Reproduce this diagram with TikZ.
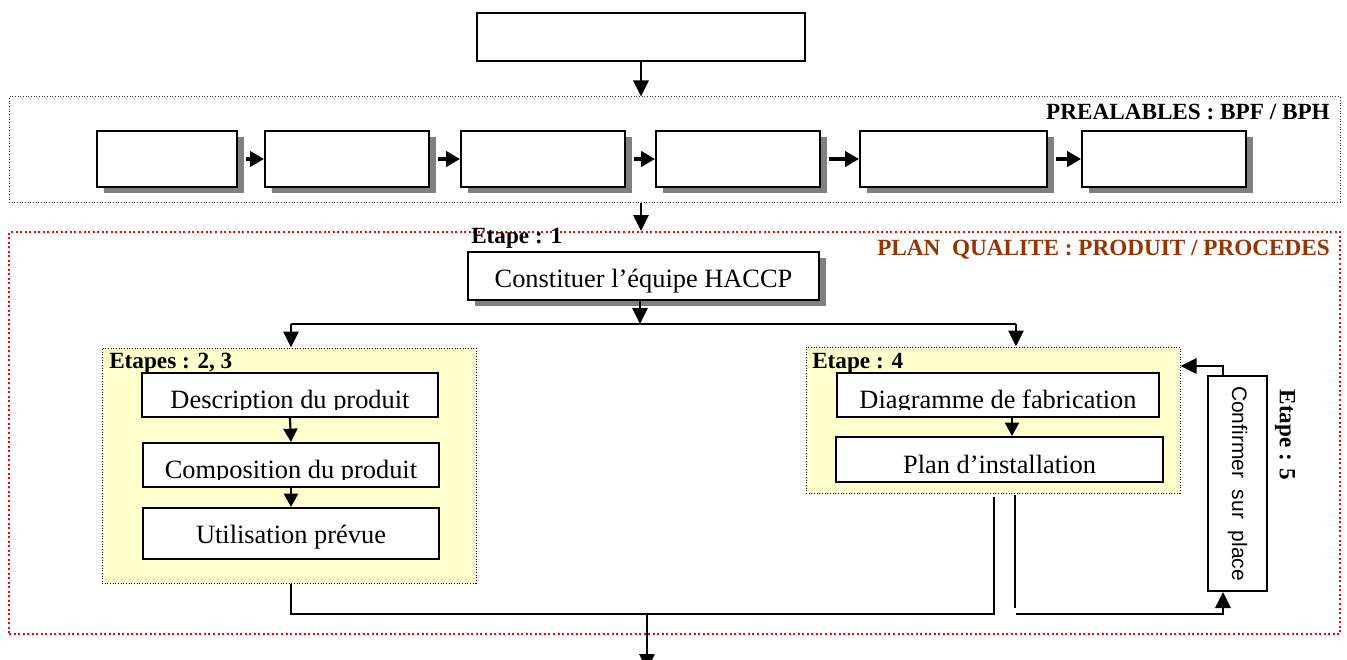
\documentclass[tikz,border=0pt]{standalone}
\usepackage{fontspec}
\setmainfont{Liberation Serif}
\newfontfamily\arialfont{Liberation Sans}
\usetikzlibrary{arrows.meta,fit,shadows,calc}

\definecolor{shadowgray}{HTML}{808080}
\definecolor{planbrown}{HTML}{993300}
\definecolor{paleyellow}{HTML}{FFFFCE}
\definecolor{dotred}{HTML}{FF0000}

\tikzset{
  boxframe/.style={draw=black, line width=1.5pt, fill=white, inner sep=0pt},
  shadowbox/.style={boxframe, drop shadow={shadow xshift=5.25pt, shadow yshift=-4.5pt, fill=shadowgray, opacity=1}},
  preframe/.style={draw=black!80, line width=0.75pt, dash pattern=on 0.75pt off 1.25pt, inner sep=0pt},
  redframe/.style={draw=dotred, line width=1.5pt, dash pattern=on 1.5pt off 1.9pt, inner sep=0pt},
  stepframe/.style={draw=black, line width=0.75pt, dash pattern=on 0.75pt off 1.25pt, fill=paleyellow, inner sep=0pt},
  body/.style={font=\fontsize{19.8}{22}\selectfont, inner sep=0pt},
  tag/.style={font=\bfseries\fontsize{17.4}{20}\selectfont, inner sep=0pt},
  sanstext/.style={font=\arialfont\fontsize{15.75}{18}\selectfont, inner sep=0pt},
  conn/.style={line width=1.6pt},
  arr/.style={conn, -{Triangle[length=12pt,width=11.5pt]}},
  smallarr/.style={conn, -{Triangle[length=10pt,width=10.5pt]}},
  chainarr/.style={line width=2.5pt, -{Triangle[length=10.5pt,width=11.5pt]}},
}

\begin{document}
\begin{tikzpicture}[x=0.75pt,y=-0.75pt]
  \useasboundingbox (0,0) rectangle (1347,660);
  \fill[white] (0,0) rectangle (1347,660);

  % outer frames
  \node (pre)  [fit={(9,97) (1340,202)}, preframe] {};
  \node (plan) [fit={(9,232) (1340,634)}, redframe] {};
  \node (preT)  [tag, anchor=base east] at (1330,119) {PREALABLES : BPF / BPH};
  \node (planT) [tag, anchor=base east, text=planbrown] at (1330,255) {PLAN\ \ QUALITE : PRODUIT / PROCEDES};

  % source box
  \node (src) [fit={(477,13) (805,61)}, boxframe] {};
  \draw[arr] (src.south) -- (src.south |- pre.north);

  % prerequisite chain
  \node (p1) [fit={(97,131) (237,187)}, shadowbox] {};
  \node (p2) [fit={(265,131) (429,187)}, shadowbox] {};
  \node (p3) [fit={(461,131) (625,187)}, shadowbox] {};
  \node (p4) [fit={(656,131) (820,187)}, shadowbox] {};
  \node (p5) [fit={(860,131) (1047,187)}, shadowbox] {};
  \node (p6) [fit={(1082,131) (1246,187)}, shadowbox] {};
  \foreach \a/\b in {p1/p2,p2/p3,p3/p4,p4/p5,p5/p6}
    \draw[chainarr] ([xshift=6pt]\a.east) -- (\b.west);

  \draw[arr] (pre.south -| src.south) -- (src.south |- plan.north);

  % step 1
  \node (e1) [tag, anchor=base west] at (471,243) {Etape : 1};
  \node (c1) [fit={(468,252) (819,300)}, shadowbox] {};
  \node (c1t) [body, anchor=base] at ($(c1.south)+(0,-14)$) {Constituer l’équipe HACCP};

  % distribution bus
  \coordinate (busL) at (291,324);
  \coordinate (busM) at (640,324);
  \coordinate (busR) at (1016,324);
  \draw[arr] (c1.south -| busM) -- (busM);
  \draw[conn] (busL) -- (busR);

  % steps 2, 3
  \node (y1) [fit={(102,348) (476,583)}, stepframe] {};
  \node (e23) [tag, anchor=base west] at (109,368) {Etapes : 2, 3};
  \draw[arr] (busL) -- (busL |- y1.north);
  \node (d1) [fit={(142,373) (438,417)}, boxframe] {};
  \node (d2) [fit={(143,443) (439,487)}, boxframe] {};
  \node (d3) [fit={(143,508) (439,559)}, boxframe] {};
  \begin{scope}
    \clip (d1.north west) rectangle ($(d1.south east)+(0,-9)$);
    \node (d1t) [body, anchor=base] at ($(d1.south)+(0,-10)$) {Description du produit};
  \end{scope}
  \begin{scope}
    \clip (d2.north west) rectangle ($(d2.south east)+(0,-9)$);
    \node (d2t) [body, anchor=base] at ($(d2.south)+(0,-10)$) {Composition du produit};
  \end{scope}
  \node (d3t) [body, anchor=base] at ($(d3.south)+(0,-17)$) {Utilisation prévue};
  \draw[smallarr] (d1.south) -- (d2.north);
  \draw[smallarr] (d2.south) -- (d3.north);

  % step 4
  \node (y2) [fit={(806,347) (1180,493)}, stepframe] {};
  \node (e4) [tag, anchor=base west] at (812,368) {Etape : 4};
  \draw[arr] (busR) -- (busR |- y2.north);
  \node (f1) [fit={(837,373) (1159,417)}, boxframe] {};
  \node (f2) [fit={(836,437) (1163,482)}, boxframe] {};
  \begin{scope}
    \clip (f1.north west) rectangle ($(f1.south east)+(0,-9)$);
    \node (f1t) [body, anchor=base] at ($(f1.south)+(0,-10)$) {Diagramme de fabrication};
  \end{scope}
  \node (f2t) [body, anchor=base] at ($(f2.south)+(0,-10)$) {Plan d’installation};
  \coordinate (fx) at (1012,0);
  \draw[smallarr] (f1.south -| fx) -- (f2.north -| fx);

  % step 5
  \node (cf) [fit={(1208,376) (1267,591)}, boxframe] {};
  \node (cft) [sanstext, rotate=-90] at (cf.center) {Confirmer\ \ sur\ \ place};
  \node (e5) [tag, rotate=-90] at (1285,435) {Etape : 5};
  \coordinate (cfup) at (1223,366);
  \draw[arr] (cfup |- cf.north) -- (cfup) -- (cfup -| y2.east);

  % collecting lines
  \coordinate (botL) at (291,614);
  \coordinate (jL) at (994,614);
  \coordinate (jLtop) at (994,497);
  \coordinate (jRtop) at (1015,495);
  \coordinate (jRbot) at (1015,608);
  \coordinate (jRstart) at (1016,614);
  \coordinate (cfin) at (1223,614);
  \coordinate (outM) at (647,614);
  \coordinate (outEnd) at (647,670);
  \draw[conn] (botL |- y1.south) -- (botL) -- (jL) -- (jLtop);
  \draw[conn] (jRtop) -- (jRbot);
  \draw[arr] (jRstart) -- (cfin) -- (cfin |- cf.south);
  \draw[arr] (outM) -- (outEnd);
\end{tikzpicture}
\end{document}
